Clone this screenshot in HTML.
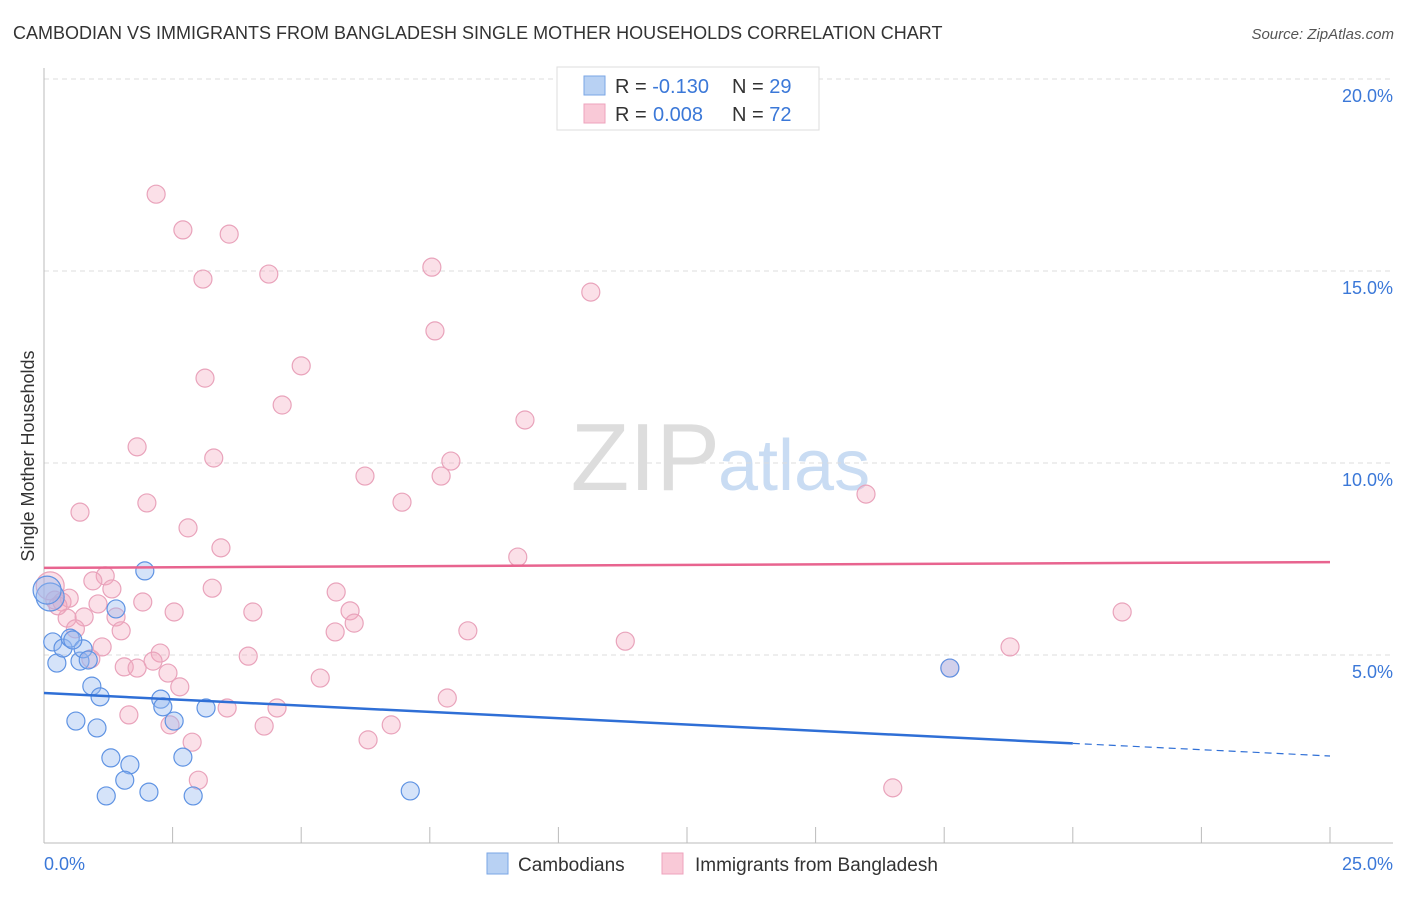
<!DOCTYPE html>
<html><head><meta charset="utf-8"><style>
body{margin:0;background:#fff;font-family:"Liberation Sans",sans-serif}
svg text{font-family:"Liberation Sans",sans-serif}
</style></head><body>
<svg width="1406" height="892" xmlns="http://www.w3.org/2000/svg">
<text x="13" y="39" font-size="18" fill="#333">CAMBODIAN VS IMMIGRANTS FROM BANGLADESH SINGLE MOTHER HOUSEHOLDS CORRELATION CHART</text>
<text x="1394" y="39" font-size="15" fill="#555" font-style="italic" text-anchor="end">Source: ZipAtlas.com</text>
<text x="720" y="490" font-size="96" fill="#ddd" font-family="Liberation Serif" text-anchor="end">ZIP</text>
<text x="718" y="490" font-size="72" fill="#c9dcf3">atlas</text>
<g id="grid"></g>
<g id="axes"></g>
<g id="pts"></g>
<g id="lines"></g>
<text transform="translate(34,456) rotate(-90)" font-size="18" fill="#333" text-anchor="middle">Single Mother Households</text>
<text x="44" y="870" font-size="18" fill="#3b78d8">0.0%</text>
<text x="1393" y="870" font-size="18" fill="#3b78d8" text-anchor="end">25.0%</text>
<g>
<rect x="557" y="67" width="262" height="63" fill="#fff" stroke="#ddd"/>
<rect x="584" y="76" width="21" height="19" fill="#b8d1f3" stroke="#7aa6e6"/>
<rect x="584" y="104" width="21" height="19" fill="#f9c9d7" stroke="#eea3bc"/>
<text x="615" y="93" font-size="20" fill="#333">R = <tspan fill="#3b78d8">-0.130</tspan><tspan x="732">N = </tspan><tspan fill="#3b78d8">29</tspan></text>
<text x="615" y="121" font-size="20" fill="#333">R = <tspan fill="#3b78d8" x="653">0.008</tspan><tspan x="732">N = </tspan><tspan fill="#3b78d8">72</tspan></text>
</g>
<g>
<rect x="487" y="853" width="21" height="21" fill="#b8d1f3" stroke="#7aa6e6"/>
<text x="518" y="871" font-size="19" fill="#333">Cambodians</text>
<rect x="662" y="853" width="21" height="21" fill="#f9c9d7" stroke="#eea3bc"/>
<text x="695" y="871" font-size="19" fill="#333">Immigrants from Bangladesh</text>
</g>
</svg>
<script>
const yTicks=[5,10,15,20];
const yTickLabels=["5.0%","10.0%","15.0%","20.0%"];
const blueX=[0.12,0.17,0.25,0.37,0.51,0.70,0.76,0.86,0.93,1.09,0.62,1.03,1.40,1.96,1.30,1.67,1.57,1.21,2.04,2.27,2.31,2.53,2.70,2.90,3.15,7.12,17.61,0.56,0.06];
const blueY=[6.51,5.34,4.79,5.18,5.44,4.84,5.16,4.87,4.19,3.91,3.28,3.10,6.20,7.19,2.32,2.14,1.74,1.33,1.43,3.85,3.65,3.28,2.34,1.33,3.62,1.46,4.66,5.39,6.69];
const pinkX=[2.18,2.70,3.60,3.09,4.37,7.54,10.63,7.60,5.00,3.13,4.63,9.35,1.81,3.30,7.91,6.24,7.72,2.00,6.96,15.98,0.70,2.80,3.44,9.21,1.19,0.95,1.32,3.27,5.68,0.12,0.21,0.35,0.49,1.05,1.92,2.53,4.06,5.95,20.96,0.45,0.78,1.40,1.50,0.61,6.03,5.66,8.24,11.30,1.13,2.26,18.78,3.97,2.12,1.56,1.81,2.41,0.91,2.64,5.37,7.84,17.61,1.65,3.56,4.53,2.45,4.28,6.75,2.88,6.30,3.00,16.50,0.27];
const pinkY=[17.0,16.07,15.96,14.79,14.92,15.10,14.45,13.44,12.53,12.21,11.51,11.12,10.42,10.13,10.05,9.66,9.66,8.96,8.98,9.19,8.72,8.31,7.79,7.55,7.06,6.93,6.72,6.74,6.64,6.80,6.43,6.38,6.48,6.33,6.38,6.12,6.12,6.15,6.12,5.96,5.99,5.99,5.63,5.68,5.83,5.60,5.63,5.36,5.21,5.05,5.21,4.97,4.84,4.69,4.66,4.53,4.90,4.17,4.40,3.88,4.66,3.44,3.62,3.62,3.18,3.15,3.18,2.73,2.79,1.74,1.54,6.28];
const blueTrend=[4.01,2.37];
const pinkTrend=[7.27,7.42];
const NS="http://www.w3.org/2000/svg";
const sx=v=>44+v/25*1286;
const sy=v=>847-v/5*192;
function mk(t,a,p){const e=document.createElementNS(NS,t);for(const k in a)e.setAttribute(k,a[k]);document.getElementById(p).appendChild(e);return e;}
yTicks.forEach((t,i)=>{
 const l=mk('line',{x1:44,x2:1393,y1:sy(t),y2:sy(t),stroke:'#ddd','stroke-dasharray':'5,4'},'grid');
 
 
 const tx=mk('text',{x:1393,y:sy(t)+23,'font-size':18,fill:'#3b78d8','text-anchor':'end'},'grid');
 tx.textContent=yTickLabels[i];
 
 
});
const ya=mk('line',{x1:44,x2:44,y1:68,y2:843,stroke:'#bbb'},'axes');


const xa=mk('line',{x1:44,x2:1393,y1:843,y2:843,stroke:'#bbb'},'axes');


for(let i=0;i<=10;i++){
 const tk=mk('line',{x1:sx(i*2.5),x2:sx(i*2.5),y1:827,y2:843,stroke:'#bbb'},'axes');
 
 
}
pinkX.forEach((x,i)=>{
 const c=mk('circle',{cx:sx(x),cy:sy(pinkY[i]),r:(x<0.2?14:9),fill:'rgba(244,165,190,0.35)',stroke:'#e9a3bb','stroke-width':1.2},'pts');
 
 
});
blueX.forEach((x,i)=>{
 const c=mk('circle',{cx:sx(x),cy:sy(blueY[i]),r:(x<0.15?14:9),fill:'rgba(150,185,240,0.4)',stroke:'#5f93e3','stroke-width':1.2},'pts');
 
 
});
const pl=mk('line',{x1:sx(0),x2:sx(25),y1:sy(pinkTrend[0]),y2:sy(pinkTrend[1]),stroke:'#e8648f','stroke-width':2.5},'lines');


const yb=x=>blueTrend[0]+(blueTrend[1]-blueTrend[0])*x/25;
const bl=mk('line',{x1:sx(0),x2:sx(20),y1:sy(yb(0)),y2:sy(yb(20)),stroke:'#2f6fd6','stroke-width':2.5},'lines');


const bd=mk('line',{x1:sx(20),x2:sx(25),y1:sy(yb(20)),y2:sy(yb(25)),stroke:'#2f6fd6','stroke-width':1.2,'stroke-dasharray':'7,5'},'lines');


</script>
</body></html>
